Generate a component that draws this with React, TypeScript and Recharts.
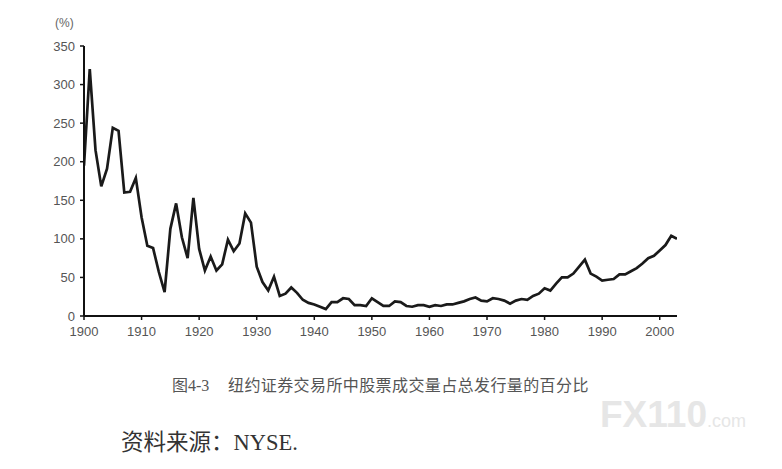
import { CSSProperties } from "react";
import { LineChart, Line, XAxis, YAxis } from "recharts";

const years = [
  1900, 1901, 1902, 1903, 1904, 1905, 1906, 1907, 1908, 1909,
  1910, 1911, 1912, 1913, 1914, 1915, 1916, 1917, 1918, 1919,
  1920, 1921, 1922, 1923, 1924, 1925, 1926, 1927, 1928, 1929,
  1930, 1931, 1932, 1933, 1934, 1935, 1936, 1937, 1938, 1939,
  1940, 1941, 1942, 1943, 1944, 1945, 1946, 1947, 1948, 1949,
  1950, 1951, 1952, 1953, 1954, 1955, 1956, 1957, 1958, 1959,
  1960, 1961, 1962, 1963, 1964, 1965, 1966, 1967, 1968, 1969,
  1970, 1971, 1972, 1973, 1974, 1975, 1976, 1977, 1978, 1979,
  1980, 1981, 1982, 1983, 1984, 1985, 1986, 1987, 1988, 1989,
  1990, 1991, 1992, 1993, 1994, 1995, 1996, 1997, 1998, 1999,
  2000, 2001, 2002, 2003,
];

// turnover as % of shares listed
const turnover = [
  195, 320, 215, 168, 191, 244, 240, 160, 161, 179,
  128, 91, 88, 57, 31, 113, 146, 102, 75, 153,
  87, 59, 77, 59, 67, 99, 84, 94, 133, 121,
  64, 44, 33, 51, 26, 29, 37, 30, 21, 17,
  15, 12, 9, 18, 18, 23, 22, 14, 14, 13,
  23, 18, 13, 13, 19, 18, 13, 12, 14, 14,
  12, 14, 13, 15, 15, 17, 19, 22, 24, 20,
  19, 23, 22, 20, 16, 20, 22, 21, 26, 29,
  36, 33, 42, 50, 50, 55, 64, 73, 55, 51,
  46, 47, 48, 54, 54, 58, 62, 68, 75, 78,
  85, 92, 104, 100,
];

const xTicks = [1900, 1910, 1920, 1930, 1940, 1950, 1960, 1970, 1980, 1990, 2000];
const yTicks = [0, 50, 100, 150, 200, 250, 300, 350];

const data = years.map((year, i) => ({ year, value: turnover[i] }));

const tickStyle = {
  fill: "#555",
  fontSize: 13,
  fontFamily: "'Liberation Sans Narrow', 'Liberation Sans', sans-serif",
};

export default function App() {
  const pageStyle: CSSProperties = {
    position: "absolute",
    left: 0,
    top: 0,
    width: 782,
    height: 469,
    background: "#fff",
    overflow: "hidden",
  };

  const unitStyle: CSSProperties = {
    position: "absolute",
    left: 55,
    top: 16,
    fontSize: 12,
    color: "#666",
    fontFamily: "'Liberation Sans', sans-serif",
  };

  const captionStyle: CSSProperties = {
    position: "absolute",
    top: 372,
    fontSize: 16,
    color: "#555",
    fontFamily: "'Liberation Serif', 'Noto Sans CJK SC', serif",
    whiteSpace: "nowrap",
  };

  const sourceStyle: CSSProperties = {
    position: "absolute",
    left: 121,
    top: 424,
    fontSize: 22.5,
    color: "#333",
    fontFamily: "'Liberation Serif', 'Noto Sans CJK SC', serif",
    whiteSpace: "nowrap",
  };

  const markStyle: CSSProperties = {
    position: "absolute",
    left: 600,
    top: 394,
    color: "#e6e6e6",
    fontFamily: "'Liberation Sans', sans-serif",
    fontWeight: 700,
    whiteSpace: "nowrap",
  };

  return (
    <div style={pageStyle}>
      <LineChart
        width={782}
        height={469}
        data={data}
        margin={{ top: 46, right: 105, bottom: 123, left: 44 }}
      >
        <XAxis
          dataKey="year"
          type="number"
          domain={[1900, 2003]}
          ticks={xTicks}
          height={30}
          tickSize={4}
          tickMargin={7}
          axisLine={{ stroke: "#111", strokeWidth: 2 }}
          tickLine={{ stroke: "#111", strokeWidth: 1.5 }}
          tick={tickStyle}
          allowDataOverflow
        />
        <YAxis
          type="number"
          domain={[0, 350]}
          ticks={yTicks}
          width={40}
          tickSize={4}
          tickMargin={5}
          axisLine={{ stroke: "#111", strokeWidth: 2 }}
          tickLine={{ stroke: "#111", strokeWidth: 1.5 }}
          tick={tickStyle}
        />
        <Line
          type="linear"
          dataKey="value"
          stroke="#1a1a1a"
          strokeWidth={2.7}
          dot={false}
          isAnimationActive={false}
        />
      </LineChart>
      <div style={unitStyle}>(%)</div>
      <div style={{ ...captionStyle, left: 172 }}>图4-3</div>
      <div style={{ ...captionStyle, left: 228, letterSpacing: 0.4 }}>
        纽约证券交易所中股票成交量占总发行量的百分比
      </div>
      <div style={sourceStyle}>资料来源：NYSE.</div>
      <div style={markStyle}>
        <span style={{ fontSize: 37 }}>FX110</span>
        <span style={{ fontSize: 18, fontWeight: 400 }}>.com</span>
      </div>
    </div>
  );
}
